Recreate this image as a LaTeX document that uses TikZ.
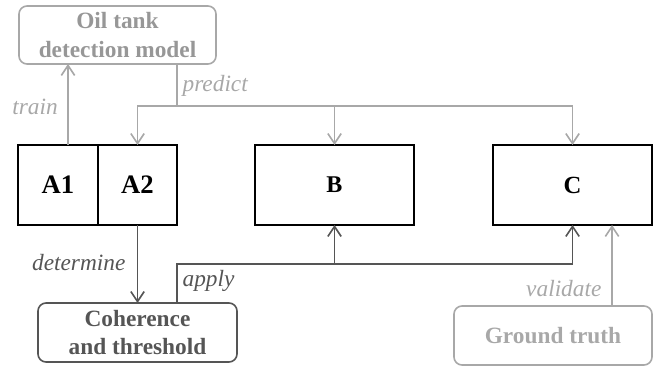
\documentclass[tikz,border=0pt]{standalone}
\usepackage{fontspec}
\setmainfont{Liberation Serif}
\usetikzlibrary{arrows.meta}
\definecolor{lightgr}{HTML}{A8A8A8}
\definecolor{darkgr}{HTML}{555555}
\tikzset{
  databox/.style={draw=black, line width=2.2pt, inner sep=0pt, outer sep=0pt, font=\bfseries},
  roundbox/.style={draw, rounded corners=6pt, line width=1.2pt, inner sep=0pt, outer sep=0pt, align=center, font=\fontsize{17.5}{21.5}\selectfont\bfseries},
  tipV/.style={-{Straight Barb[length=7.5pt,width=10pt,line width=1.2pt]}},
  lightarr/.style={draw=lightgr, line width=1.2pt, tipV},
  darkarr/.style={draw=darkgr, line width=1.2pt, tipV},
  lbl/.style={font=\fontsize{17.5}{20}\selectfont\itshape, inner sep=1pt}
}
\begin{document}
\begin{tikzpicture}[x=0.75pt,y=0.75pt,yscale=-1]
\useasboundingbox (0,0) rectangle (657,367);
\node[roundbox, draw=lightgr, text=lightgr!90!black, minimum width=147.75pt, minimum height=43.5pt] (model) at (117.5,35) {Oil tank\\detection model};
\node[databox, minimum width=60pt, minimum height=60pt, font=\fontsize{20}{24}\selectfont\bfseries] (A1) at (58,185) {A1};
\node[databox, minimum width=59.25pt, minimum height=60pt, font=\fontsize{20}{24}\selectfont\bfseries] (A2) at (137.5,185) {A2};
\node[databox, minimum width=119.25pt, minimum height=60pt, font=\fontsize{18}{22}\selectfont\bfseries] (B) at (334.5,185) {B};
\node[databox, minimum width=119.25pt, minimum height=60pt, font=\fontsize{18.5}{22}\selectfont\bfseries] (C) at (572.5,185) {C};
\node[roundbox, draw=darkgr, text=darkgr, minimum width=149.25pt, minimum height=44.25pt] (coh) at (137.5,332.5) {Coherence\\and threshold};
\node[roundbox, draw=lightgr, text=lightgr, minimum width=148.5pt, minimum height=44.25pt] (gt) at (553,335.5) {Ground truth};

\coordinate (tfoot) at (68,145);
\coordinate (psrc) at (177,64);
\coordinate (pbar) at (177,106);
\coordinate (asrc) at (177,303);
\coordinate (abar) at (177,264);
\coordinate (vsrc) at (612,306);

\draw[lightarr] (tfoot) -- (tfoot |- model.south);
\draw[lightarr] (psrc) -- (pbar) -| (A2.north);
\draw[lightarr] (pbar) -| (B.north);
\draw[lightarr] (pbar) -| (C.north);
\draw[darkarr] (A2.south) -- (coh.north);
\draw[darkarr] (asrc) -- (abar) -| (B.south);
\draw[darkarr] (abar) -| (C.south);
\draw[lightarr] (vsrc) -- (vsrc |- C.south);

\node[lbl, text=lightgr] (ltrain) at (35,107) {train};
\node[lbl, text=lightgr, anchor=west] (lpredict) at (181,86) {predict};
\node[lbl, text=darkgr, anchor=east] (ldetermine) at (127,263) {determine};
\node[lbl, text=darkgr, anchor=west] (lapply) at (181,281) {apply};
\node[lbl, text=lightgr, anchor=east] (lvalidate) at (603,289) {validate};
\end{tikzpicture}
\end{document}
